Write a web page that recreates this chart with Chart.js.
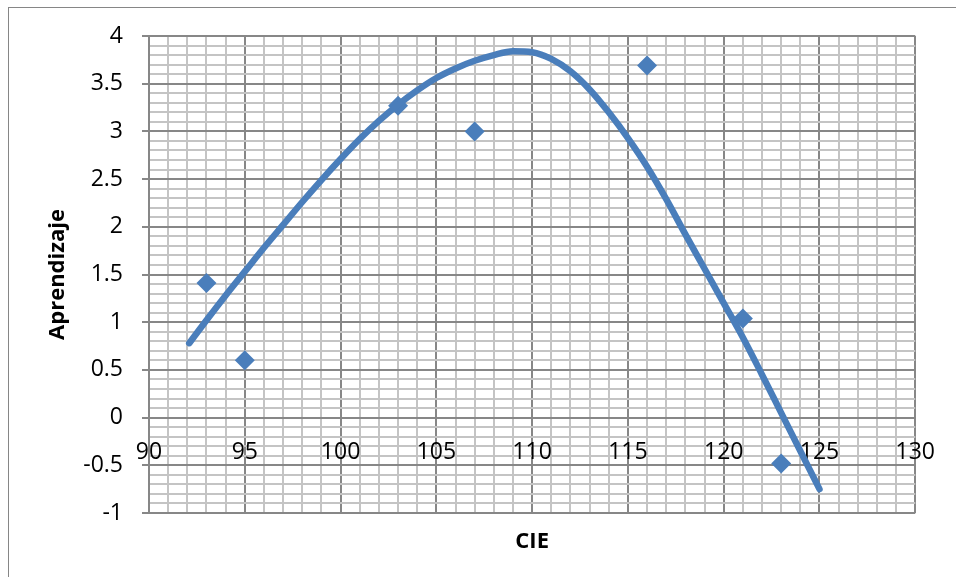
<!DOCTYPE html>
<html lang="es">
<head>
<meta charset="utf-8">
<title>Aprendizaje vs CIE</title>
<script src="https://cdn.jsdelivr.net/npm/chart.js@4.4.1/dist/chart.umd.min.js"></script>
<style>
  html, body { margin: 0; padding: 0; background: #fff; overflow: hidden; }
  #marco {
    position: absolute; left: 8px; top: 7px; width: 1000px; height: 1000px;
    border-left: 1px solid #868686; border-top: 1px solid #868686;
  }
  #myChart { position: absolute; left: 0; top: 0; }
</style>
</head>
<body>
<div id="marco"></div>
<canvas id="myChart" width="956" height="577"></canvas>
<script>
// Puntos (CIE, Aprendizaje)
const cie = [93, 95, 103, 107, 116, 121, 123];
const aprendizaje = [1.41, 0.6, 3.27, 3.0, 3.69, 1.04, -0.48];

// Linea de tendencia
const tendenciaX = [92.1, 93, 94, 95, 96, 97, 98, 99, 100, 101, 102, 103, 104, 105, 106, 107, 108,
  109, 110, 111, 112, 113, 114, 115, 116, 117, 118, 119, 120, 121, 122, 123, 124, 125];
const tendenciaY = [0.78, 1.02, 1.28, 1.53, 1.78, 2.02, 2.26, 2.49, 2.71, 2.92, 3.11, 3.28, 3.43, 3.56, 3.66, 3.74, 3.8,
  3.84, 3.83, 3.76, 3.63, 3.44, 3.2, 2.93, 2.63, 2.29, 1.92, 1.56, 1.2, 0.84, 0.45, 0.05, -0.35, -0.75];

// Etiquetas de los ejes (lineas principales)
const xEtiquetas = [90, 95, 100, 105, 110, 115, 120, 125, 130];
const yEtiquetas = [-1, -0.5, 0, 0.5, 1, 1.5, 2, 2.5, 3, 3.5, 4];

const azul = "#4a7ebb";
const gris = "#878787";
const grisClaro = "#c4c4c4";
const fuente = "'Open Sans', sans-serif";

function esMayor(lista, v) {
  return lista.some((e) => Math.abs(e - v) < 1e-6);
}

var ctx = document.getElementById("myChart").getContext("2d");

var myChart = new Chart(ctx, {
  type: "scatter",
  data: {
    datasets: [
      {
        label: "Tendencia",
        data: tendenciaX.map((x, i) => ({ x: x, y: tendenciaY[i] })),
        showLine: true,
        cubicInterpolationMode: "monotone",
        pointRadius: 0,
        borderColor: azul,
        borderWidth: 6.5,
        borderCapStyle: "round",
        order: 0,
      },
      {
        label: "Aprendizaje",
        data: cie.map((x, i) => ({ x: x, y: aprendizaje[i] })),
        pointStyle: "rectRot",
        pointRadius: 10,
        backgroundColor: azul,
        borderWidth: 0,
        order: 1,
      },
    ],
  },
  options: {
    responsive: false,
    animation: false,
    layout: { padding: { top: 36, right: 37, left: 0, bottom: 0 } },
    plugins: { legend: { display: false }, tooltip: { enabled: false } },
    scales: {
      x: {
        type: "linear",
        min: 90,
        max: 130,
        position: { y: 0 },
        ticks: {
          stepSize: 1,
          autoSkip: false,
          maxRotation: 0,
          padding: 21,
          color: "#000",
          font: { family: fuente, size: 23 },
          callback: (v) => (esMayor(xEtiquetas, v) ? String(v) : ""),
        },
        grid: {
          drawTicks: false,
          lineWidth: 2,
          color: (c) => (esMayor(xEtiquetas, c.tick.value) ? gris : grisClaro),
        },
        border: { color: gris, width: 2 },
      },
      x2: {
        type: "linear",
        min: 90,
        max: 130,
        position: "bottom",
        ticks: { display: false },
        grid: { display: false },
        border: { display: false },
        title: {
          display: true,
          text: "CIE",
          color: "#000",
          font: { family: fuente, size: 22, weight: "bold" },
          padding: { top: 0, bottom: 22 },
        },
        afterFit: (s) => {
          s.height = 64;
        },
      },
      y: {
        type: "linear",
        min: -1,
        max: 4,
        ticks: {
          stepSize: 0.1,
          autoSkip: false,
          padding: 19,
          color: "#000",
          font: { family: fuente, size: 23 },
          callback: (v) => (esMayor(yEtiquetas, v) ? String(Math.round(v * 10) / 10) : ""),
        },
        grid: {
          lineWidth: 2,
          tickLength: 7,
          color: (c) => (esMayor(yEtiquetas, c.tick.value) ? gris : grisClaro),
          tickColor: (c) => (esMayor(yEtiquetas, c.tick.value) ? gris : "transparent"),
        },
        border: { color: gris, width: 2 },
        title: {
          display: true,
          text: "Aprendizaje",
          color: "#000",
          font: { family: fuente, size: 22, weight: "bold" },
          padding: { top: 45, bottom: 0 },
        },
        afterFit: (s) => {
          s.width = 149;
        },
      },
    },
  },
});
</script>
</body>
</html>
